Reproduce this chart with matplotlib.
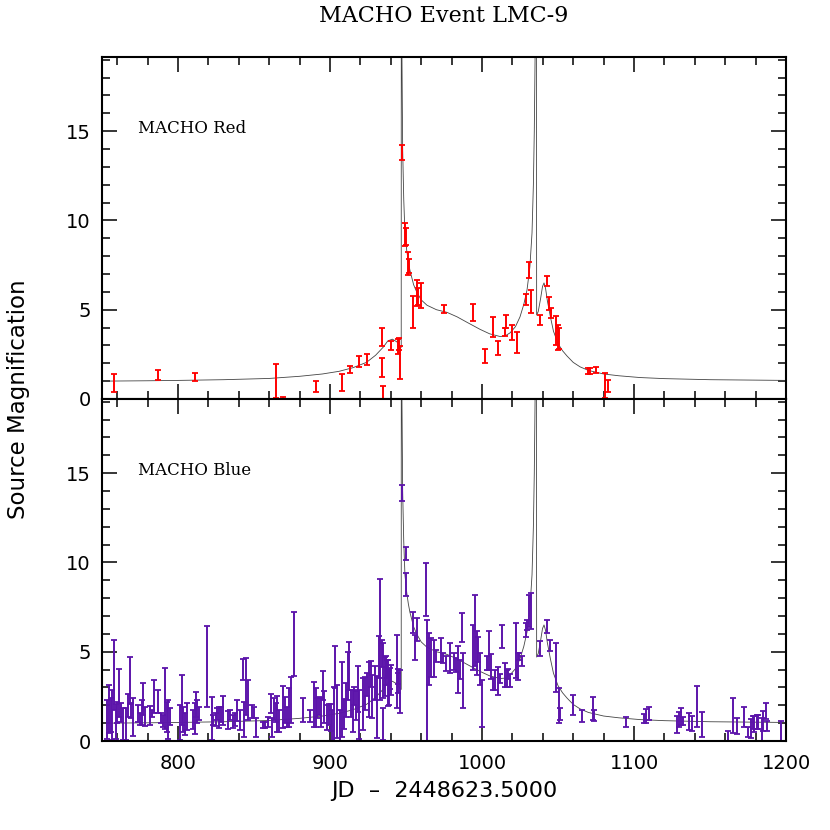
import matplotlib
matplotlib.use("Agg")
import matplotlib.pyplot as plt
from matplotlib.ticker import MultipleLocator

# red band measurements: JD offset, magnification, error
red_jd = [757.9, 787.0, 811.0, 864.3, 869.0, 891.0, 908.0, 913.2, 919.0, 924.1,
          934.0, 934.0, 935.0, 940.1, 944.5, 945.4, 946.0, 947.2, 949.3, 950.0,
          951.5, 952.2, 954.8, 957.0, 958.1, 959.9, 975.0, 993.9, 1002.2, 1007.0,
          1010.7, 1015.1, 1015.8, 1020.0, 1022.8, 1028.7, 1030.9, 1032.0, 1038.2, 1042.6,
          1044.0, 1045.4, 1048.7, 1050.2, 1050.9, 1070.0, 1071.0, 1075.0, 1081.0, 1082.7]
red_mag = [0.9, 1.35, 1.25, 1.0, 0.0, 0.7, 0.92, 1.63, 2.12, 2.22,
           3.47, 1.77, 0.3, 3.0, 2.93, 3.08, 2.02, 13.8, 9.2, 9.1,
           7.6, 7.45, 4.86, 5.94, 5.75, 5.8, 5.05, 4.83, 2.4, 4.02,
           2.85, 3.74, 4.35, 3.74, 3.16, 5.58, 7.23, 5.47, 4.44, 6.59,
           5.36, 4.81, 3.85, 3.45, 3.4, 1.56, 1.56, 1.61, 0.74, 0.74]
red_err = [0.5, 0.28, 0.23, 0.95, 0.1, 0.31, 0.47, 0.19, 0.31, 0.31,
           0.52, 0.55, 0.4, 0.27, 0.42, 0.33, 0.92, 0.4, 0.63, 0.5,
           0.65, 0.37, 0.89, 0.75, 0.47, 0.7, 0.23, 0.49, 0.4, 0.55,
           0.37, 0.23, 0.37, 0.42, 0.58, 0.3, 0.45, 0.66, 0.28, 0.28,
           0.36, 0.28, 0.81, 0.7, 0.6, 0.16, 0.16, 0.17, 0.7, 0.33]

# blue band measurements
blue_jd = [753.5, 754.6, 755.7, 756.8, 758.1, 759.0, 760.1, 761.2, 762.3, 763.6,
           765.8, 766.9, 768.2, 769.1, 770.4, 773.9, 775.0, 776.5, 777.2, 778.3,
           781.6, 783.1, 784.2, 787.0, 789.0, 790.1, 791.4, 792.6, 793.6, 794.7,
           801.3, 802.4, 803.5, 804.6, 806.1, 810.0, 811.2, 811.8, 812.7, 813.8,
           818.9, 822.2, 823.2, 824.8, 825.9, 827.0, 828.1, 829.8, 832.7, 834.2,
           836.4, 837.5, 839.0, 840.8, 842.6, 843.4, 844.5, 845.8, 848.5, 850.0,
           851.3, 855.7, 857.2, 859.4, 861.0, 862.0, 863.2, 864.3, 865.3, 866.4,
           869.3, 870.4, 871.9, 873.2, 874.2, 876.0, 882.4, 886.8, 889.5, 890.6,
           891.6, 893.0, 894.1, 895.2, 896.3, 897.8, 899.3, 900.5, 901.5, 902.6,
           903.3, 904.8, 906.6, 907.7, 909.2, 910.5, 911.6, 912.7, 913.8, 914.9,
           916.0, 917.1, 918.2, 919.3, 921.9, 923.0, 924.6, 925.9, 926.8, 927.9,
           929.6, 930.7, 932.2, 932.9, 934.0, 935.0, 935.1, 936.2, 936.6, 937.7,
           937.9, 939.0, 939.3, 940.1, 943.9, 944.9, 945.0, 946.0, 947.6, 949.9,
           950.2, 954.8, 955.9, 957.5, 963.0, 964.1, 965.1, 966.2, 968.4, 969.5,
           973.0, 974.5, 976.1, 979.0, 981.6, 982.9, 984.4, 985.5, 987.0, 987.7,
           994.3, 995.4, 996.5, 997.6, 998.7, 999.8, 1003.5, 1004.8, 1005.9, 1007.4,
           1008.6, 1010.7, 1011.8, 1013.4, 1015.1, 1016.2, 1017.3, 1018.4, 1022.4, 1023.5,
           1024.6, 1026.1, 1028.7, 1029.8, 1030.9, 1032.0, 1038.2, 1042.6, 1044.7, 1048.7,
           1050.7, 1051.3, 1059.7, 1065.6, 1073.2, 1073.9, 1094.7, 1106.8, 1107.9, 1109.7,
           1128.5, 1129.8, 1130.9, 1132.4, 1136.4, 1138.0, 1141.6, 1144.9, 1161.6, 1165.3,
           1167.5, 1172.6, 1174.8, 1177.0, 1178.1, 1179.2, 1180.7, 1181.8, 1184.0, 1185.1,
           1186.6, 1187.7, 1196.5]
blue_mag = [1.2, 1.8, 1.45, 1.45, 3.7, 1.1, 1.6, 2.7, 1.6, 0.95,
            0.95, 2.0, 3.4, 1.7, 1.35, 1.55, 1.23, 1.6, 2.35, 1.38,
            1.43, 1.55, 2.47, 2.2, 1.28, 1.13, 2.4, 1.36, 1.2, 1.37,
            1.04, 2.3, 1.22, 0.95, 1.37, 1.22, 1.27, 2.07, 1.65, 1.55,
            4.17, 1.27, 1.18, 1.2, 1.5, 1.32, 1.47, 1.7, 1.2, 1.47,
            1.1, 1.2, 1.7, 1.15, 4.0, 1.2, 3.05, 2.3, 1.65, 1.6,
            0.75, 0.9, 0.92, 1.08, 2.1, 0.75, 1.8, 1.6, 1.5, 1.13,
            1.9, 1.74, 1.37, 1.88, 2.3, 5.43, 1.74, 1.4, 2.04, 1.87,
            1.83, 1.97, 1.6, 3.1, 1.9, 1.32, 1.5, 1.3, 0.87, 1.5,
            4.15, 1.65, 0.87, 2.35, 1.5, 2.3, 3.65, 4.2, 2.1, 1.7,
            2.54, 2.0, 2.93, 1.5, 2.07, 2.65, 3.15, 2.9, 3.77, 2.5,
            3.26, 1.9, 4.7, 5.7, 4.92, 3.95, 0.95, 3.6, 3.94, 4.04,
            3.24, 3.0, 3.5, 3.43, 3.9, 3.6, 3.24, 2.77, 13.9, 8.76,
            10.5, 6.65, 5.25, 6.24, 8.48, 3.4, 4.6, 4.69, 4.64, 4.78,
            5.11, 4.64, 4.32, 4.64, 4.46, 4.27, 4.0, 4.0, 6.37, 3.38,
            5.25, 6.2, 4.92, 5.15, 4.04, 2.1, 4.36, 5.06, 4.2, 3.2,
            3.4, 3.37, 3.5, 5.86, 3.7, 3.5, 3.75, 3.4, 5.06, 4.18,
            4.74, 4.5, 6.23, 6.5, 7.3, 7.3, 5.16, 6.42, 5.35, 4.13,
            1.97, 1.5, 2.02, 1.41, 1.83, 1.44, 1.08, 1.27, 1.4, 1.55,
            0.92, 1.22, 1.37, 1.1, 1.08, 1.0, 1.95, 0.93, 0.3, 1.45,
            0.83, 1.33, 0.52, 0.7, 1.05, 0.95, 1.08, 1.08, 0.64, 1.1,
            1.67, 0.85, 0.57]
blue_err = [1.1, 1.35, 0.95, 1.4, 1.97, 1.0, 0.6, 1.35, 0.52, 0.9,
            0.9, 0.65, 1.3, 0.42, 1.07, 0.48, 0.34, 0.72, 0.9, 0.54,
            0.53, 0.19, 0.92, 0.64, 0.27, 0.33, 1.7, 0.84, 1.1, 0.47,
            0.98, 1.4, 0.7, 0.6, 0.75, 0.52, 0.85, 0.7, 0.66, 0.37,
            2.25, 1.22, 0.28, 0.37, 0.33, 0.61, 0.42, 0.8, 0.5, 0.28,
            0.37, 0.37, 0.6, 0.56, 0.6, 1.0, 1.6, 1.1, 0.37, 0.33,
            0.52, 0.19, 0.17, 0.28, 0.55, 0.52, 0.6, 0.52, 1.0, 0.61,
            1.19, 0.75, 0.56, 1.08, 1.3, 1.78, 0.66, 0.31, 1.24, 1.1,
            0.56, 0.52, 0.8, 0.82, 0.9, 0.7, 0.6, 0.75, 0.87, 1.5,
            1.19, 1.5, 0.87, 2.1, 0.85, 0.94, 1.36, 1.33, 0.75, 1.17,
            0.51, 0.8, 1.28, 1.36, 1.45, 0.91, 0.65, 1.54, 0.72, 1.2,
            0.95, 1.73, 1.17, 3.4, 0.75, 1.55, 0.9, 1.1, 0.8, 0.51,
            1.3, 1.0, 0.6, 0.84, 2.06, 0.42, 0.56, 1.22, 0.45, 0.66,
            0.35, 0.6, 0.7, 0.66, 1.5, 3.4, 1.45, 1.08, 1.03, 0.33,
            0.66, 0.28, 0.42, 0.84, 0.47, 0.38, 1.3, 0.55, 0.8, 1.55,
            1.27, 2.0, 1.22, 0.7, 0.89, 1.3, 0.38, 1.08, 0.7, 0.33,
            0.56, 0.8, 0.23, 0.66, 0.66, 0.47, 0.28, 0.37, 1.55, 0.75,
            0.19, 0.28, 0.38, 0.28, 0.9, 1.0, 0.42, 0.38, 0.33, 1.36,
            0.98, 0.33, 0.56, 0.33, 0.66, 0.3, 0.28, 0.25, 0.37, 0.37,
            0.49, 0.42, 0.47, 0.23, 0.47, 0.42, 1.15, 0.72, 0.28, 0.98,
            0.44, 0.56, 0.28, 0.55, 0.37, 0.45, 0.4, 0.4, 0.64, 0.56,
            0.45, 0.28, 0.57]

# binary lens model curve
model_jd = [750, 780, 800, 830, 860, 880, 895, 906, 915, 924,
            930, 935, 938, 941, 944, 946.0, 946.6, 946.85, 946.95, 947.1,
            947.3, 947.8, 948.5, 949.3, 950.5, 951.5, 952.6, 955, 957, 960,
            963.8, 970, 977, 983.6, 990, 998.7, 1005, 1011.8, 1015, 1018.4,
            1022, 1025, 1027.5, 1029.6, 1031.5, 1032.9, 1033.8, 1034.4, 1034.9, 1035.3,
            1035.7, 1035.95, 1037, 1038.5, 1039.8, 1040.8, 1041.8, 1043, 1045, 1047,
            1050, 1053, 1056, 1060, 1064.5, 1070, 1080, 1090, 1104, 1120,
            1150, 1200]
model_mag = [1.0, 1.02, 1.04, 1.08, 1.15, 1.27, 1.4, 1.55, 1.75, 2.05,
             2.45, 2.9, 3.25, 3.35, 3.2, 2.95, 2.88, 2.9, 40, 26,
             19.5, 14.0, 11.2, 9.3, 8.3, 7.7, 7.2, 6.4, 6.0, 5.55,
             5.25, 5.0, 4.85, 4.6, 4.3, 3.9, 3.65, 3.5, 3.52, 3.7,
             4.05, 4.6, 5.3, 6.1, 7.4, 9.3, 12, 15, 19, 30,
             30, 4.7, 4.9, 5.6, 6.3, 6.5, 6.2, 5.5, 4.6, 3.8,
             3.1, 2.7, 2.4, 2.05, 1.8, 1.6, 1.4, 1.3, 1.2, 1.14,
             1.08, 1.04]

SANS = ["DejaVu Sans"]
SERIF = ["DejaVu Serif"]


def style_axis(ax):
    ax.set_xlim(750, 1200)
    ax.set_ylim(0, 19.15)
    ax.xaxis.set_major_locator(MultipleLocator(100))
    ax.xaxis.set_minor_locator(MultipleLocator(20))
    ax.yaxis.set_major_locator(MultipleLocator(5))
    ax.yaxis.set_minor_locator(MultipleLocator(1))
    ax.tick_params(which="both", direction="in", top=True, right=True, width=1.1, colors="black")
    ax.tick_params(which="major", length=11)
    ax.tick_params(which="minor", length=5.5)
    ax.tick_params(axis="y", pad=8)
    ax.tick_params(axis="x", pad=9)
    for sp in ax.spines.values():
        sp.set_linewidth(1.5)
    for lab in ax.get_xticklabels() + ax.get_yticklabels():
        lab.set_family(SANS)
        lab.set_fontsize(14)


def draw_panel(ax, jd, mag, err, color, name):
    ax.plot(model_jd, model_mag, color="#444444", linewidth=0.6)
    ax.errorbar(jd, mag, yerr=err, fmt="none", ecolor=color, elinewidth=1.4,
                capsize=2.2, capthick=1.3)
    ax.text(0.053, 0.79, name, transform=ax.transAxes, family=SERIF, fontsize=12,
            va="center", ha="left")
    style_axis(ax)


def main():
    fig = plt.figure(figsize=(8.3, 8.3), dpi=100)
    ax_red = fig.add_axes([0.1229, 0.5193, 0.8241, 0.412])
    ax_blue = fig.add_axes([0.1229, 0.1072, 0.8241, 0.412])

    draw_panel(ax_red, red_jd, red_mag, red_err, "#ff0000", "MACHO Red")
    draw_panel(ax_blue, blue_jd, blue_mag, blue_err, "#5c14aa", "MACHO Blue")

    ax_red.set_xticklabels([])
    yt = ax_blue.get_yticks()
    ax_blue.set_yticks(yt)
    ax_blue.set_yticklabels([str(int(v)) if v < 19 else "" for v in yt], family=SANS, fontsize=14)
    ax_blue.set_ylim(0, 19.15)

    ax_blue.set_xlabel("JD  \u2013  2448623.5000", family=SANS, fontsize=16, labelpad=6)
    fig.text(0.022, 0.519, "Source Magnification", rotation=90, family=SANS,
             fontsize=16.5, ha="center", va="center")
    fig.text(0.535, 0.981, "MACHO Event LMC-9", family=SERIF, fontsize=16,
             ha="center", va="center")

    fig.savefig("out.png", dpi=100)


if __name__ == '__main__':
    main()
